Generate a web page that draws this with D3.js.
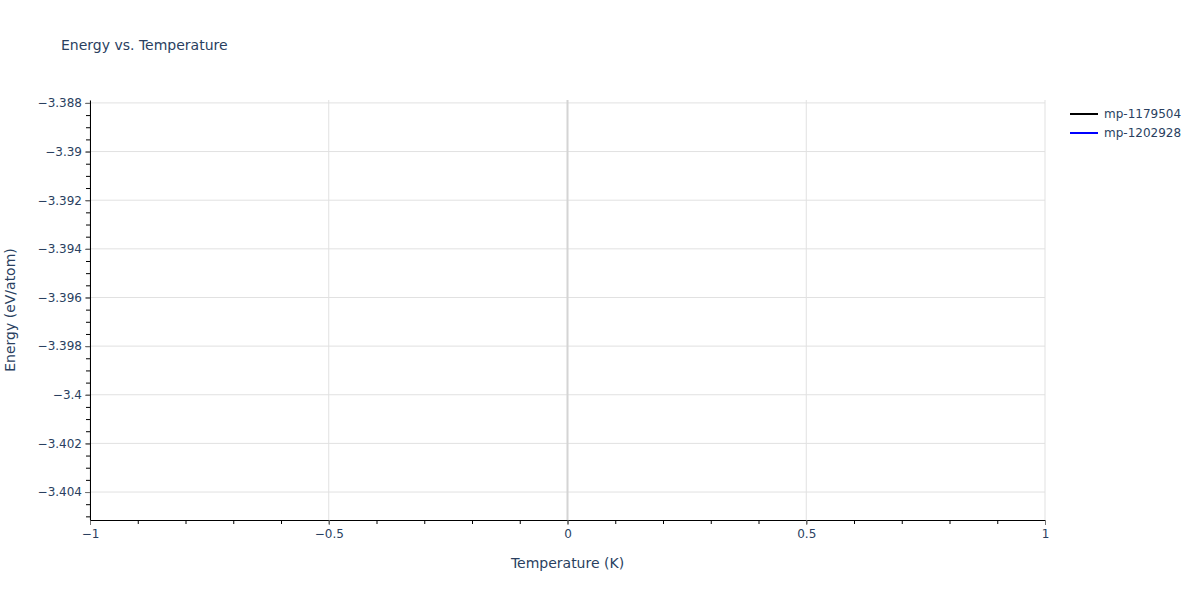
<!DOCTYPE html>
<html>
<head>
	<title>Energy vs. Temperature</title>
	<meta charset='utf-8'>
	<style>
		body {
			margin: 0;
			background-color: #fff;
		}

		svg, svg text {
			font-family: 'DejaVu Sans', verdana, arial, sans-serif;
		}

		.grid line {
			stroke: #e1e1e1;
			stroke-width: 1px;
		}

		.zero-line {
			stroke: #d4d4d4;
			stroke-width: 2px;
		}

		.axis path.domain {
			stroke: #000;
			stroke-width: 1px;
		}

		.axis .tick line {
			stroke: #777;
		}

		.axis .tick text {
			fill: #2a3f5f;
			font-size: 12px;
		}

		.axis-title {
			fill: #2a3f5f;
			font-size: 14px;
		}

		.title {
			fill: #2a3f5f;
			font-size: 14px;
		}

		.legend text {
			fill: #2a3f5f;
			font-size: 12px;
		}

		.series {
			fill: none;
			stroke-width: 2px;
		}
	</style>
</head>
<body>
<div id="chart"></div>
<script src='https://d3js.org/d3.v7.min.js'></script>
<script>
	'use strict';

	// Данные: у каждой серии одна точка, поэтому линий не видно
	const seriesNames = ['mp-1179504', 'mp-1202928'];
	const seriesColors = ['#000000', '#0000ff'];
	const temperatures = [[0], [0]];
	const energies = [[-3.39651], [-3.39651]];

	const xTicks = [-1, -0.5, 0, 0.5, 1];
	const yTicks = [-3.388, -3.39, -3.392, -3.394, -3.396, -3.398, -3.4, -3.402, -3.404];
	const xDomain = [-1, 1];
	const yDomain = [-3.40515, -3.38788];

	const margin = {top: 100, right: 155, bottom: 80, left: 90};
	const fullWidth = 1200;
	const fullHeight = 600;
	const width = fullWidth - margin.left - margin.right;
	const height = fullHeight - margin.top - margin.bottom;

	const xScale = d3.scaleLinear().domain(xDomain).range([0, width]);
	const yScale = d3.scaleLinear().domain(yDomain).range([height, 0]);

	const root = d3.select('div#chart').append('svg')
		.attr('width', fullWidth)
		.attr('height', fullHeight);

	const svg = root.append('g')
		.attr('transform', 'translate(' + margin.left + ',' + margin.top + ')');

	const fmt = (d) => d3.format('')(d).replace('-', '\u2212');

	// Сетка
	const grid = svg.append('g').attr('class', 'grid');

	grid.selectAll('line.gy')
		.data(yTicks)
		.enter().append('line')
		.attr('class', 'gy')
		.attr('x1', 0)
		.attr('x2', width)
		.attr('y1', (d) => yScale(d))
		.attr('y2', (d) => yScale(d));

	grid.selectAll('line.gx')
		.data(xTicks.filter((d) => d !== 0))
		.enter().append('line')
		.attr('class', 'gx')
		.attr('y1', 0)
		.attr('y2', height)
		.attr('x1', (d) => xScale(d))
		.attr('x2', (d) => xScale(d));

	svg.append('line')
		.attr('class', 'zero-line')
		.attr('x1', xScale(0))
		.attr('x2', xScale(0))
		.attr('y1', 0)
		.attr('y2', height);

	// Мелкие засечки
	const xMinor = d3.range(-10, 11).map((i) => i / 10);
	const yMinor = d3.range(Math.ceil(yDomain[0] / 0.0005), Math.floor(yDomain[1] / 0.0005) + 1)
		.map((i) => i * 0.0005);

	svg.append('g')
		.attr('class', 'minor')
		.attr('transform', 'translate(0,' + height + ')')
		.call(d3.axisBottom(xScale).tickValues(xMinor).tickSize(4).tickFormat(''))
		.call((g) => g.select('.domain').remove())
		.selectAll('line').attr('stroke', '#000');

	svg.append('g')
		.attr('class', 'minor')
		.call(d3.axisLeft(yScale).tickValues(yMinor).tickSize(4).tickFormat(''))
		.call((g) => g.select('.domain').remove())
		.selectAll('line').attr('stroke', '#000');

	// Оси
	svg.append('g')
		.attr('class', 'axis axis__x')
		.attr('transform', 'translate(0,' + height + ')')
		.call(d3.axisBottom(xScale).tickValues(xTicks).tickSize(5).tickSizeOuter(0).tickPadding(4).tickFormat(fmt))
		.attr('font-family', null)
		.attr('font-size', null);

	svg.append('g')
		.attr('class', 'axis axis__y')
		.call(d3.axisLeft(yScale).tickValues(yTicks).tickSize(5).tickSizeOuter(0).tickPadding(3).tickFormat(fmt))
		.attr('font-family', null)
		.attr('font-size', null);

	// Линии серий
	const line = d3.line()
		.x((d) => xScale(d[0]))
		.y((d) => yScale(d[1]));

	seriesNames.forEach((name, i) => {
		svg.append('path')
			.datum(d3.zip(temperatures[i], energies[i]))
			.attr('class', 'series')
			.attr('stroke', seriesColors[i])
			.attr('d', line);
	});

	// Подписи
	root.append('text')
		.attr('class', 'title')
		.attr('x', 61)
		.attr('y', 50)
		.text('Energy vs. Temperature');

	root.append('text')
		.attr('class', 'axis-title')
		.attr('text-anchor', 'middle')
		.attr('x', margin.left + width / 2)
		.attr('y', 568)
		.text('Temperature (K)');

	root.append('text')
		.attr('class', 'axis-title')
		.attr('text-anchor', 'middle')
		.attr('transform', 'translate(15,' + (margin.top + height / 2) + ') rotate(-90)')
		.text('Energy (eV/atom)');

	// Легенда
	const legend = root.append('g')
		.attr('class', 'legend')
		.attr('transform', 'translate(1070,114)');

	const items = legend.selectAll('g')
		.data(seriesNames)
		.enter().append('g')
		.attr('transform', (d, i) => 'translate(0,' + i * 19 + ')');

	items.append('line')
		.attr('x1', 0)
		.attr('x2', 28)
		.attr('stroke', (d, i) => seriesColors[i])
		.attr('stroke-width', 2);

	items.append('text')
		.attr('x', 34)
		.attr('dy', '0.35em')
		.text((d) => d);
</script>
</body>
</html>
